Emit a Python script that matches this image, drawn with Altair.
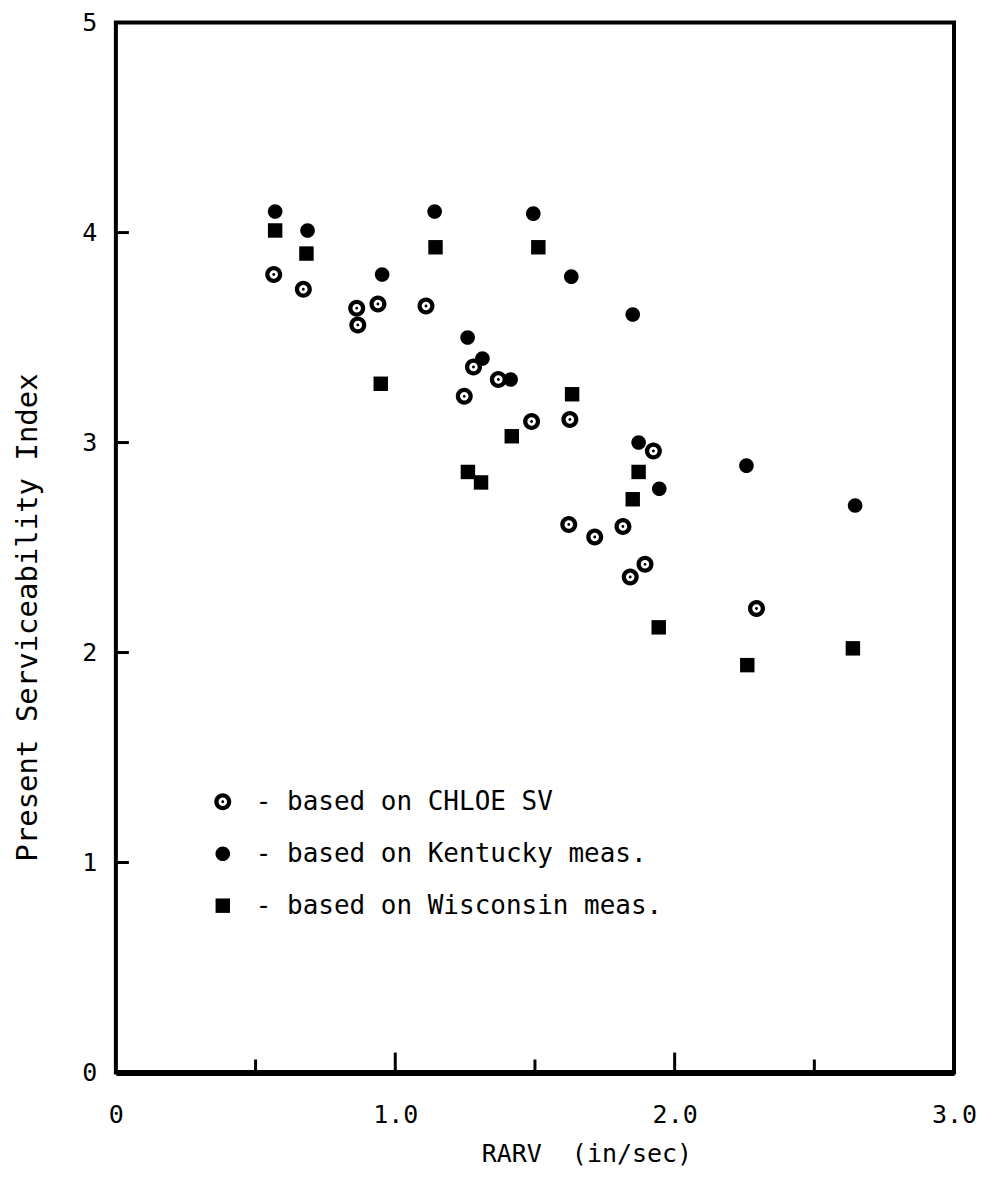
import altair as alt
import pandas as pd

# ---- data ----
series_names = ["CHLOE SV", "Kentucky meas.", "Wisconsin meas."]

chloe_x = [0.565, 0.671, 0.862, 0.866, 0.938, 1.110, 1.280, 1.369, 1.247,
           1.488, 1.625, 1.924, 1.621, 1.714, 1.815, 1.894, 1.841, 2.293]
chloe_y = [3.80, 3.73, 3.64, 3.56, 3.66, 3.65, 3.36, 3.30, 3.22,
           3.10, 3.11, 2.96, 2.61, 2.55, 2.60, 2.42, 2.36, 2.21]

kentucky_x = [0.570, 0.686, 1.141, 1.494, 0.953, 1.630, 1.850, 1.259, 1.312,
              1.413, 1.871, 1.945, 2.257, 2.646]
kentucky_y = [4.10, 4.01, 4.10, 4.09, 3.80, 3.79, 3.61, 3.50, 3.40,
              3.30, 3.00, 2.78, 2.89, 2.70]

wisconsin_x = [0.570, 0.682, 1.144, 1.512, 0.948, 1.633, 1.417, 1.260, 1.307,
               1.871, 1.850, 1.943, 2.638, 2.260]
wisconsin_y = [4.01, 3.90, 3.93, 3.93, 3.28, 3.23, 3.03, 2.86, 2.81,
               2.86, 2.73, 2.12, 2.02, 1.94]

x_tick_labels = [0, 1, 2, 3]
y_tick_labels = [0, 1, 2, 3, 4, 5]
x_major_ticks = [1.0, 2.0]
x_minor_ticks = [0.5, 1.5, 2.5]
y_ticks = [1, 2, 3, 4]

# ---- table ----
rows = []
for name, xs, ys in zip(series_names,
                        [chloe_x, kentucky_x, wisconsin_x],
                        [chloe_y, kentucky_y, wisconsin_y]):
    for xv, yv in zip(xs, ys):
        rows.append({"series": name, "rarv": xv, "psi": yv})
df = pd.DataFrame(rows)

# ---- symbol shapes (unit paths) ----
K = 0.5523


def circ(r, cw=True):
    k = K * r
    if cw:
        return (f"M {r} 0 C {r} {k} {k} {r} 0 {r} C {-k} {r} {-r} {k} {-r} 0 "
                f"C {-r} {-k} {-k} {-r} 0 {-r} C {k} {-r} {r} {-k} {r} 0 Z ")
    return (f"M {r} 0 C {r} {-k} {k} {-r} 0 {-r} C {-k} {-r} {-r} {-k} {-r} 0 "
            f"C {-r} {k} {-k} {r} 0 {r} C {k} {r} {r} {k} {r} 0 Z ")


ring_dot = circ(1.0, True) + circ(0.5, False) + circ(0.17, True)
disc = circ(0.86, True)
sq = "M -0.85 -0.85 L 0.85 -0.85 L 0.85 0.85 L -0.85 0.85 Z"

W, H = 839, 1051
FONT = "DejaVu Sans Mono"

points = alt.Chart(df).mark_point(
    filled=True, opacity=1, size=289, color="black", strokeWidth=0
).encode(
    x=alt.X("rarv:Q",
            scale=alt.Scale(domain=[0, 3], nice=False),
            axis=alt.Axis(values=x_tick_labels,
                          labelExpr="datum.value == 0 ? '0' : format(datum.value, '.1f')",
                          labelFontSize=25, labelPadding=30, labelAlign="center",
                          labelBaseline="top", labelFlush=False,
                          ticks=False, domain=True, domainColor="black",
                          domainWidth=6,
                          title="RARV\u00a0\u00a0(in/sec)", titleFontSize=25,
                          titleX=471, titleY=89, titleAlign="center",
                          titleBaseline="alphabetic")),
    y=alt.Y("psi:Q",
            scale=alt.Scale(domain=[0, 5], nice=False),
            axis=alt.Axis(values=y_tick_labels, format="d",
                          labelFontSize=25, labelPadding=19, labelAlign="right",
                          labelBaseline="middle", labelFlush=False,
                          ticks=False, domain=False,
                          title="Present Serviceability Index", titleFontSize=29,
                          titleX=-88, titleY=595, titleAlign="center",
                          titleBaseline="middle", titleAngle=270)),
    shape=alt.Shape("series:N",
                    scale=alt.Scale(domain=series_names,
                                    range=[ring_dot, disc, sq]),
                    legend=alt.Legend(orient="none", legendX=94, legendY=767,
                                      title=None,
                                      labelExpr="'- based on ' + datum.label",
                                      labelFont=FONT, labelFontSize=26,
                                      labelColor="black", labelLimit=0,
                                      labelOffset=20, rowPadding=26,
                                      symbolSize=289, symbolFillColor="black",
                                      symbolStrokeWidth=0, symbolOpacity=1)),
)

ydf = pd.DataFrame({"v": y_ticks})
xmaj = pd.DataFrame({"v": x_major_ticks})
xmin = pd.DataFrame({"v": x_minor_ticks})

y_tick_marks = alt.Chart(ydf).mark_rule(color="black", strokeWidth=3).encode(
    y="v:Q", x=alt.value(0), x2=alt.value(13))
x_major_marks = alt.Chart(xmaj).mark_rule(color="black", strokeWidth=3).encode(
    x="v:Q", y=alt.value(H), y2=alt.value(H - 20))
x_minor_marks = alt.Chart(xmin).mark_rule(color="black", strokeWidth=3).encode(
    x="v:Q", y=alt.value(H), y2=alt.value(H - 13))

chart = alt.layer(points, y_tick_marks, x_major_marks, x_minor_marks).properties(
    width=W, height=H,
    autosize=alt.AutoSizeParams(type="none"),
    padding={"left": 108, "top": 14, "right": 23, "bottom": 97},
    background="white",
).configure_axis(
    labelFont=FONT, titleFont=FONT, labelColor="black", titleColor="black",
    grid=False, titleFontWeight="normal",
).configure_view(
    stroke="black", strokeWidth=4,
)

chart.save("out.html", embed_options={"renderer": "svg", "actions": False})
